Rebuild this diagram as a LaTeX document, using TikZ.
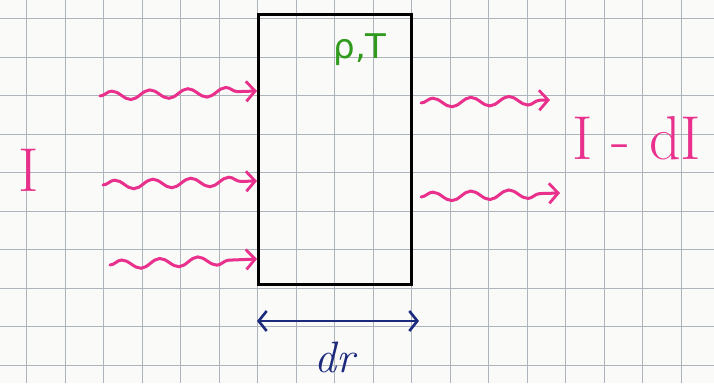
\documentclass[tikz,border=0pt]{standalone}
\usepackage{fontspec}
\newfontfamily\dejavu{DejaVu Sans}
\usetikzlibrary{decorations.pathmorphing,arrows.meta}
\definecolor{gridc}{HTML}{AEB4BC}
\definecolor{pinkc}{HTML}{E8308C}
\definecolor{greenc}{HTML}{2F9A1C}
\definecolor{bluec}{HTML}{1C2A7E}
\definecolor{paper}{HTML}{FAFAF8}
\tikzset{
  wave/.style={draw=pinkc, line width=3pt, line cap=round,
    decorate, decoration={snake, amplitude=4.5pt, segment length=38pt, post length=10pt},
    -{Straight Barb[length=9pt,width=20pt,line width=2.8pt]}},
  label pink/.style={text=pinkc, font=\fontsize{62}{62}\selectfont, inner sep=0pt},
}
\begin{document}
\begin{tikzpicture}[x=1pt,y=-1pt]
  \fill[paper] (0,0) rectangle (714,383);
  \useasboundingbox (0,0) rectangle (714,383);
  % grid
  \foreach \i in {0,...,18} {
    \draw[gridc, line width=1pt] ({26.5+38.5*\i},0) -- ({26.5+38.5*\i},383);
  }
  \foreach \j in {0,...,9} {
    \draw[gridc, line width=1pt] (0,{18.5+38.5*\j}) -- (714,{18.5+38.5*\j});
  }
  % cell
  \node[draw=black, line width=3pt, minimum width=153pt, minimum height=270pt,
        inner sep=0pt, anchor=north west] (cell) at (257,13) {};
  \node[text=greenc, font=\fontsize{34}{34}\selectfont\dejavu, inner sep=0pt] (rhoT) at (360,50) {ρ,T};
  % incoming waves
  \coordinate (in1) at (100,96);
  \coordinate (in2) at (103,185);
  \coordinate (in3) at (110,265);
  \coordinate (e1) at (cell.west |- 0,91);
  \coordinate (e2) at (cell.west |- 0,181);
  \coordinate (e3) at (cell.west |- 0,259);
  \draw[wave] (in1) -- (e1);
  \draw[wave] (in2) -- (e2);
  \draw[wave] (in3) -- (e3);
  % outgoing waves
  \coordinate (o1) at ([xshift=8pt]cell.east |- 0,103);
  \coordinate (o2) at ([xshift=8pt]cell.east |- 0,197);
  \coordinate (f1) at (550,100);
  \coordinate (f2) at (560,193);
  \draw[wave] (o1) -- (f1);
  \draw[wave] (o2) -- (f2);
  % labels
  \node[label pink] (Iin) at (29,170) {I};
  \node[label pink] (Iout) at (637,138) {I - dI};
  % dr arrow
  \coordinate (d1) at (cell.south west |- 0,321);
  \coordinate (d2) at ([xshift=6pt]cell.south east |- 0,321);
  \draw[bluec, line width=2.8pt, {Straight Barb[length=8pt,width=20pt,line width=2.6pt]}-{Straight Barb[length=8pt,width=20pt,line width=2.6pt]}] (d1) -- (d2);
  \node[text=bluec, font=\fontsize{44}{44}\selectfont\itshape, inner sep=0pt] (dr) at (335,357) {dr};
\end{tikzpicture}
\end{document}
